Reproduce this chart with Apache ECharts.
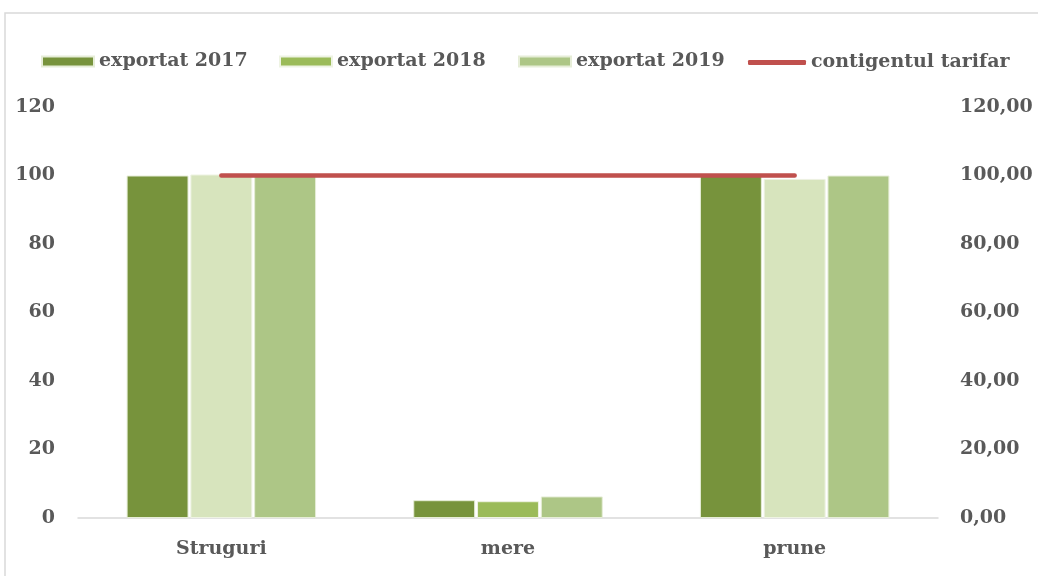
<!DOCTYPE html>
<html><head><meta charset="utf-8">
<script src="https://cdn.jsdelivr.net/npm/echarts@6/dist/echarts.min.js"></script>
<style>html,body{margin:0;padding:0;background:#fff}#c{width:1038px;height:576px}</style>
</head><body><div id="c"></div>
<script>
const categories = ['Struguri', 'mere', 'prune'];
const export2017 = [100, 5.2, 100];
const export2018 = [100.3, 4.9, 99];
const export2019 = [100, 6.3, 100];
const contingent = [100, 100, 100];
const seriesNames = ['exportat 2017', 'exportat 2018', 'exportat 2019', 'contigentul tarifar'];
const color2018 = ['#D7E4BD', '#9BBB59', '#D7E4BD'];

const FONT = '"DejaVu Serif", "Liberation Serif", serif';
const txt = {fontFamily: FONT, fontWeight: 'bold', fontSize: 19, color: '#595959'};
const chart = echarts.init(document.getElementById('c'));
function lg(name, left, icon, extra) {
  return Object.assign({
    show: true, left: left, top: 52, padding: 0, itemWidth: 52, itemHeight: 10, itemGap: 0,
    textStyle: Object.assign({}, txt),
    data: [{name: name, icon: icon}], selectedMode: false
  }, extra || {});
}
chart.setOption({
  animation: false,
  graphic: [{type: 'rect', shape: {x: 5, y: 13, width: 1040, height: 570},
    style: {fill: 'none', stroke: '#D9D9D9', lineWidth: 1.5}, silent: true}],
  legend: [
    lg(seriesNames[0], 41, 'rect'),
    lg(seriesNames[1], 279, 'rect'),
    lg(seriesNames[2], 518, 'rect'),
    lg(seriesNames[3], 748, 'roundRect', {itemWidth: 58, itemHeight: 5, top: 53})
  ],
  grid: {left: 78, right: 100, top: 107, bottom: 58},
  xAxis: {type: 'category', data: categories,
    axisLine: {lineStyle: {color: '#D9D9D9', width: 1.5}}, axisTick: {show: false},
    axisLabel: Object.assign({}, txt, {margin: 22})},
  yAxis: [
    {type: 'value', min: 0, max: 120, interval: 20, splitLine: {show: false},
     axisLine: {show: false}, axisTick: {show: false},
     axisLabel: Object.assign({}, txt, {margin: 23})},
    {type: 'value', min: 0, max: 120, interval: 20, splitLine: {show: false},
     axisLine: {show: false}, axisTick: {show: false},
     axisLabel: Object.assign({}, txt, {margin: 22, formatter: v => v.toFixed(2).replace('.', ',')})}
  ],
  series: [
    {name: seriesNames[0], type: 'bar', data: export2017, barWidth: '21.6%', barGap: '3%',
     itemStyle: {color: '#77933C', borderColor: '#E6EDD7', borderWidth: 1}},
    {name: seriesNames[1], type: 'bar', barWidth: '21.6%', barGap: '3%',
     data: export2018.map((v, i) => ({value: v, itemStyle: {color: color2018[i]}})),
     itemStyle: {color: '#9BBB59', borderColor: '#EEF3E3', borderWidth: 1}},
    {name: seriesNames[2], type: 'bar', data: export2019, barWidth: '21.6%', barGap: '3%',
     itemStyle: {color: '#ADC686', borderColor: '#E6EDD7', borderWidth: 1}},
    {name: seriesNames[3], type: 'line', yAxisIndex: 1, data: contingent, symbol: 'none',
     lineStyle: {color: '#C0504D', width: 4.5, cap: 'round'}, itemStyle: {color: '#C0504D'}, z: 5}
  ]
});
</script></body></html>
